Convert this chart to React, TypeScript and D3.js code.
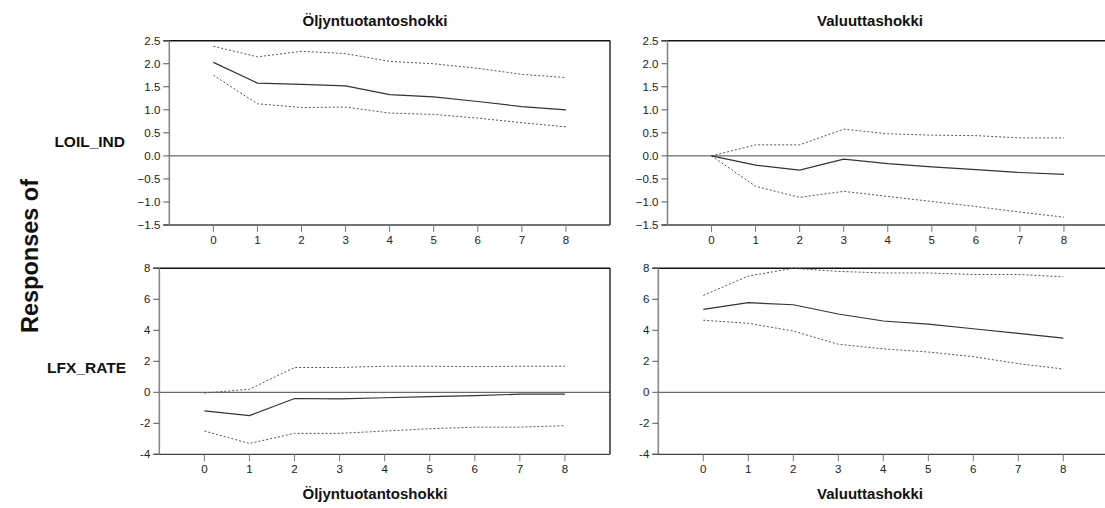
import React from "react";
import * as d3 from "d3";

const horizons = [0, 1, 2, 3, 4, 5, 6, 7, 8];

const oilOnOilMid = [2.03, 1.58, 1.55, 1.52, 1.33, 1.28, 1.18, 1.07, 1.0];
const oilOnOilUp = [2.38, 2.15, 2.27, 2.22, 2.05, 2.0, 1.9, 1.77, 1.7];
const oilOnOilLo = [1.75, 1.13, 1.05, 1.06, 0.93, 0.9, 0.82, 0.72, 0.63];

const fxOnOilMid = [0, -0.2, -0.31, -0.07, -0.17, -0.24, -0.3, -0.36, -0.4];
const fxOnOilUp = [0, 0.24, 0.24, 0.58, 0.48, 0.45, 0.44, 0.39, 0.39];
const fxOnOilLo = [0, -0.66, -0.9, -0.77, -0.88, -0.99, -1.1, -1.22, -1.33];

const oilOnFxMid = [-1.2, -1.5, -0.4, -0.42, -0.35, -0.28, -0.22, -0.12, -0.12];
const oilOnFxUp = [-0.05, 0.2, 1.6, 1.6, 1.68, 1.68, 1.66, 1.68, 1.68];
const oilOnFxLo = [-2.5, -3.3, -2.65, -2.65, -2.5, -2.35, -2.25, -2.25, -2.15];

const fxOnFxMid = [5.35, 5.78, 5.65, 5.05, 4.6, 4.4, 4.1, 3.8, 3.5];
const fxOnFxUp = [6.25, 7.5, 8.0, 7.8, 7.7, 7.7, 7.6, 7.6, 7.45];
const fxOnFxLo = [4.65, 4.45, 3.95, 3.1, 2.8, 2.6, 2.3, 1.85, 1.5];

const topTicks = [-1.5, -1.0, -0.5, 0.0, 0.5, 1.0, 1.5, 2.0, 2.5];
const bottomTicks = [-4, -2, 0, 2, 4, 6, 8];

const shockNames = ["Öljyntuotantoshokki", "Valuuttashokki"];
const responseNames = ["LOIL_IND", "LFX_RATE"];

const FONT = "'Liberation Sans', Arial, sans-serif";

type PanelProps = {
  x0: number;
  x1: number;
  y0: number;
  y1: number;
  ticks: number[];
  fmt: (v: number) => string;
  mid: number[];
  up: number[];
  lo: number[];
};

function Panel({ x0, x1, y0, y1, ticks, fmt, mid, up, lo }: PanelProps) {
  const x = d3.scaleLinear().domain([-1, 9]).range([x0, x1]);
  const y = d3
    .scaleLinear()
    .domain([ticks[0], ticks[ticks.length - 1]])
    .range([y1, y0]);
  const line = d3
    .line<number>()
    .x((_, i) => x(horizons[i]))
    .y((d) => y(d));
  return (
    <g>
      <line x1={x0} x2={x1} y1={y(0)} y2={y(0)} stroke="#444" strokeWidth={1} />
      <line x1={x0 - 6} x2={x1} y1={y0} y2={y0} stroke="#111" strokeWidth={1.6} />
      <line x1={x1} x2={x1} y1={y0} y2={y1} stroke="#111" strokeWidth={1.3} />
      <line x1={x0 - 6} x2={x1} y1={y1} y2={y1} stroke="#444" strokeWidth={1.3} />
      <line x1={x0} x2={x0} y1={y0} y2={y1} stroke="#888" strokeWidth={1.6} />
      {ticks.map((t) => (
        <g key={t}>
          <line x1={x0 - 6} x2={x0} y1={y(t)} y2={y(t)} stroke="#555" strokeWidth={1} />
          <text x={x0 - 9} y={y(t) + 4} textAnchor="end" fontSize={11.5} fontFamily={FONT} fill="#222">
            {fmt(t)}
          </text>
        </g>
      ))}
      {horizons.map((h) => (
        <g key={h}>
          <line x1={x(h)} x2={x(h)} y1={y1} y2={y1 + 7} stroke="#777" strokeWidth={1} />
          <text x={x(h)} y={y1 + 19} textAnchor="middle" fontSize={11.5} fontFamily={FONT} fill="#222">
            {h}
          </text>
        </g>
      ))}
      <path d={line(up) || ""} fill="none" stroke="#555" strokeWidth={1} strokeDasharray="2,2" />
      <path d={line(lo) || ""} fill="none" stroke="#555" strokeWidth={1} strokeDasharray="2,2" />
      <path d={line(mid) || ""} fill="none" stroke="#333" strokeWidth={1.2} />
    </g>
  );
}

export default function App() {
  const fmtTop = (v: number) => d3.format(".1f")(v);
  const fmtBottom = (v: number) => String(v);
  return (
    <svg width={1105} height={508} style={{ position: "absolute", left: 0, top: 0, background: "#fff" }}>
      <rect x={0} y={0} width={1105} height={508} fill="#fff" />
      <Panel x0={169.3} x1={610} y0={40.7} y1={225} ticks={topTicks} fmt={fmtTop}
        mid={oilOnOilMid} up={oilOnOilUp} lo={oilOnOilLo} />
      <Panel x0={667.5} x1={1108} y0={40.7} y1={225} ticks={topTicks} fmt={fmtTop}
        mid={fxOnOilMid} up={fxOnOilUp} lo={fxOnOilLo} />
      <Panel x0={159.3} x1={610} y0={268.3} y1={454.3} ticks={bottomTicks} fmt={fmtBottom}
        mid={oilOnFxMid} up={oilOnFxUp} lo={oilOnFxLo} />
      <Panel x0={658.3} x1={1108.3} y0={268.3} y1={454.3} ticks={bottomTicks} fmt={fmtBottom}
        mid={fxOnFxMid} up={fxOnFxUp} lo={fxOnFxLo} />

      <text x={375} y={26} textAnchor="middle" fontSize={15} fontWeight="bold" fontFamily={FONT} fill="#111">{shockNames[0]}</text>
      <text x={870} y={26} textAnchor="middle" fontSize={15} fontWeight="bold" fontFamily={FONT} fill="#111">{shockNames[1]}</text>
      <text x={375} y={499} textAnchor="middle" fontSize={15} fontWeight="bold" fontFamily={FONT} fill="#111">{shockNames[0]}</text>
      <text x={870} y={499} textAnchor="middle" fontSize={15} fontWeight="bold" fontFamily={FONT} fill="#111">{shockNames[1]}</text>

      <text x={125} y={147} textAnchor="end" fontSize={15.5} fontWeight="bold" fontFamily={FONT} fill="#111">{responseNames[0]}</text>
      <text x={126} y={373} textAnchor="end" fontSize={15.5} fontWeight="bold" fontFamily={FONT} fill="#111">{responseNames[1]}</text>

      <text transform="translate(38,256) rotate(-90)" textAnchor="middle" fontSize={23.5} fontWeight="bold" fontFamily={FONT} fill="#111">
        Responses of
      </text>
    </svg>
  );
}
